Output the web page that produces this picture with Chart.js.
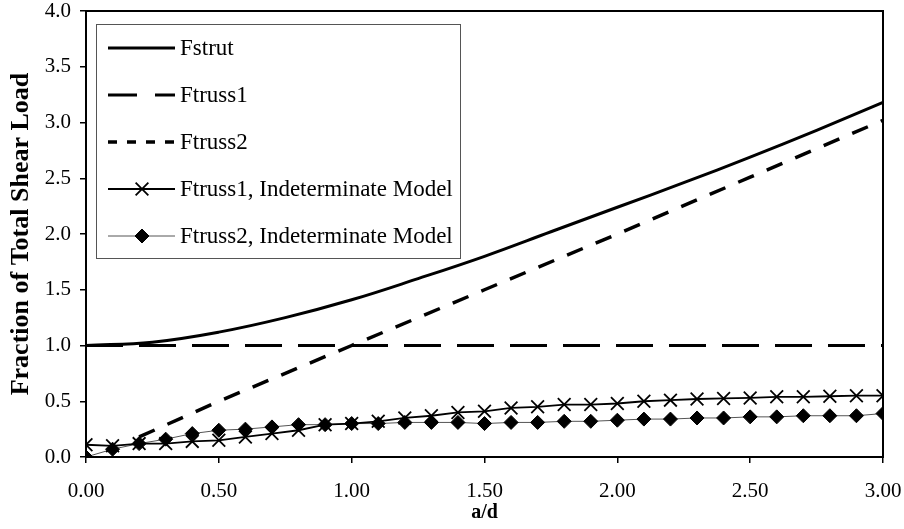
<!DOCTYPE html>
<html>
<head>
<meta charset="utf-8">
<script src="https://cdn.jsdelivr.net/npm/chart.js@4"></script>
<style>
  html, body { margin: 0; padding: 0; background: #fff; }
  #wrap { width: 904px; height: 529px; }
</style>
</head>
<body>
<div id="wrap"><canvas id="shearChart"></canvas></div>
<script>
// a/d values
const adSmooth = [0, 0.25, 0.5, 0.75, 1.0, 1.25, 1.5, 1.75, 2.0, 2.25, 2.5, 2.75, 3.0];
const fStrut   = [1.0, 1.03, 1.12, 1.25, 1.41, 1.60, 1.80, 2.02, 2.24, 2.46, 2.69, 2.93, 3.18];
const fTruss1  = [1.0, 1.0, 1.0, 1.0, 1.0, 1.0, 1.0, 1.0, 1.0, 1.0, 1.0, 1.0, 1.0];

const adTruss2 = [0.2, 0.5, 1.0, 1.5, 2.0, 2.5, 3.0];
const fTruss2  = [0.18, 0.5, 1.0, 1.5, 2.0, 2.51, 3.02];

const adModel = [0, 0.1, 0.2, 0.3, 0.4, 0.5, 0.6, 0.7, 0.8, 0.9, 1.0, 1.1, 1.2, 1.3, 1.4, 1.5,
                 1.6, 1.7, 1.8, 1.9, 2.0, 2.1, 2.2, 2.3, 2.4, 2.5, 2.6, 2.7, 2.8, 2.9, 3.0];
const fTruss1Model = [0.11, 0.10, 0.12, 0.12, 0.14, 0.15, 0.18, 0.21, 0.24, 0.29, 0.30, 0.32, 0.35, 0.37, 0.40, 0.41,
                      0.44, 0.45, 0.47, 0.47, 0.48, 0.50, 0.51, 0.52, 0.525, 0.53, 0.54, 0.54, 0.545, 0.55, 0.55];
const fTruss2Model = [0.0, 0.07, 0.12, 0.16, 0.21, 0.24, 0.25, 0.27, 0.29, 0.29, 0.30, 0.30, 0.31, 0.31, 0.31, 0.30,
                      0.31, 0.31, 0.32, 0.32, 0.33, 0.34, 0.34, 0.35, 0.35, 0.36, 0.36, 0.37, 0.37, 0.37, 0.39];

const yTicks = [0, 0.5, 1.0, 1.5, 2.0, 2.5, 3.0, 3.5, 4.0];
const xTicks = [0, 0.5, 1.0, 1.5, 2.0, 2.5, 3.0];

const serif = '"Liberation Serif", "DejaVu Serif", serif';

function toXY(xs, ys) {
    return xs.map((x, i) => ({ x: x, y: ys[i] }));
}

// Frame around plot area + custom legend box
const framePlugin = {
    id: 'frame',
    afterDraw(chart) {
        const ctx = chart.ctx;
        const a = chart.chartArea;
        ctx.save();
        ctx.strokeStyle = '#000';
        ctx.lineWidth = 2;
        ctx.strokeRect(a.left, a.top, a.right - a.left, a.bottom - a.top);

        // legend
        const lx = 96, ly = 24, lw = 364, lh = 234;
        ctx.fillStyle = '#fff';
        ctx.fillRect(lx, ly, lw, lh);
        ctx.strokeStyle = '#555';
        ctx.lineWidth = 1;
        ctx.strokeRect(lx + 0.5, ly + 0.5, lw, lh);

        const rowY = [48, 95, 142, 189, 236];
        ctx.font = '23px ' + serif;
        ctx.textBaseline = 'middle';
        chart.data.datasets.forEach((ds, i) => {
            const y = rowY[i];
            ctx.save();
            ctx.strokeStyle = ds.borderColor;
            ctx.lineWidth = ds.borderWidth;
            ctx.setLineDash(ds.legendDash || []);
            ctx.beginPath();
            ctx.moveTo(108, y);
            ctx.lineTo(175, y);
            ctx.stroke();
            ctx.restore();
            if (ds.pointRadius > 0) {
                ctx.save();
                ctx.fillStyle = ds.pointBackgroundColor;
                ctx.strokeStyle = ds.pointBorderColor;
                ctx.lineWidth = ds.pointBorderWidth;
                Chart.helpers.drawPoint(ctx, {
                    pointStyle: ds.pointStyle,
                    radius: ds.pointRadius,
                    borderWidth: ds.pointBorderWidth,
                    rotation: ds.pointRotation || 0
                }, 142, y);
                ctx.restore();
            }
            ctx.fillStyle = '#000';
            ctx.textAlign = 'left';
            ctx.fillText(ds.label, 180, y + 1);
        });
        ctx.restore();
    }
};

const ctx = document.getElementById('shearChart').getContext('2d');
new Chart(ctx, {
    type: 'scatter',
    data: {
        datasets: [
            {
                label: 'Fstrut',
                data: toXY(adSmooth, fStrut),
                showLine: true,
                borderColor: '#000',
                borderWidth: 3,
                pointRadius: 0,
                tension: 0.4,
                legendDash: []
            },
            {
                label: 'Ftruss1',
                data: toXY(adSmooth, fTruss1),
                showLine: true,
                borderColor: '#000',
                borderWidth: 3,
                borderDash: [37, 16],
                pointRadius: 0,
                legendDash: [29, 18]
            },
            {
                label: 'Ftruss2',
                data: toXY(adTruss2, fTruss2),
                showLine: true,
                borderColor: '#000',
                borderWidth: 3.5,
                borderDash: [17, 14],
                pointRadius: 0,
                tension: 0,
                legendDash: [9, 10]
            },
            {
                label: 'Ftruss1, Indeterminate Model',
                data: toXY(adModel, fTruss1Model),
                showLine: true,
                borderColor: '#000',
                borderWidth: 1.8,
                pointStyle: 'cross',
                pointRotation: 45,
                pointRadius: 9,
                pointBorderWidth: 1.8,
                pointBorderColor: '#000',
                pointBackgroundColor: '#000',
                legendDash: []
            },
            {
                label: 'Ftruss2, Indeterminate Model',
                data: toXY(adModel, fTruss2Model),
                showLine: true,
                borderColor: '#555',
                borderWidth: 1,
                pointStyle: 'rectRot',
                pointRadius: 7,
                pointBorderWidth: 1,
                pointBorderColor: '#000',
                pointBackgroundColor: '#000',
                legendDash: []
            }
        ]
    },
    options: {
        responsive: true,
        maintainAspectRatio: false,
        animation: false,
        layout: { padding: { top: 11, right: 21, left: 0, bottom: 0 } },
        plugins: {
            legend: { display: false },
            tooltip: { enabled: false }
        },
        scales: {
            x: {
                type: 'linear',
                min: 0,
                max: 3,
                afterBuildTicks: axis => { axis.ticks = xTicks.map(v => ({ value: v })); },
                afterFit: axis => {
                    axis.height = 72;
                    axis.paddingLeft = 0;
                    axis.paddingRight = 0;
                },
                ticks: {
                    color: '#000',
                    padding: 16,
                    maxRotation: 0,
                    font: { family: serif, size: 21 },
                    callback: v => Number(v).toFixed(2)
                },
                grid: { drawOnChartArea: false, color: '#000', tickLength: 6, lineWidth: 1.5 },
                border: { color: '#000', width: 2 },
                title: {
                    display: true,
                    text: 'a/d',
                    color: '#000',
                    padding: { top: 0, bottom: 4 },
                    font: { family: serif, size: 20, weight: 'bold' }
                }
            },
            y: {
                min: 0,
                max: 4,
                afterBuildTicks: axis => { axis.ticks = yTicks.map(v => ({ value: v })); },
                afterFit: axis => {
                    axis.width = 86;
                    axis.paddingTop = 0;
                    axis.paddingBottom = 0;
                },
                ticks: {
                    color: '#000',
                    padding: 9,
                    font: { family: serif, size: 21 },
                    callback: v => Number(v).toFixed(1)
                },
                grid: { drawOnChartArea: false, color: '#000', tickLength: 6, lineWidth: 1.5 },
                border: { color: '#000', width: 2 },
                title: {
                    display: true,
                    text: 'Fraction of Total Shear Load',
                    color: '#000',
                    padding: { top: 6, bottom: 0 },
                    font: { family: serif, size: 26, weight: 'bold' }
                }
            }
        }
    },
    plugins: [framePlugin]
});
</script>
</body>
</html>
